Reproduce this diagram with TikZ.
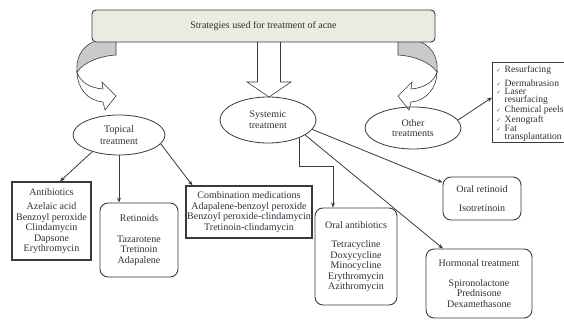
\documentclass[tikz,border=0pt]{standalone}
\usepackage{fontspec}
\setmainfont{Liberation Serif}
\newfontfamily\symfont{DejaVu Sans}
\usetikzlibrary{shapes.geometric,arrows.meta}
\definecolor{ln}{HTML}{3A3A3A}
\definecolor{txt}{HTML}{2E2E3A}
\definecolor{topfill}{HTML}{EBEBDF}
\definecolor{ribbon}{HTML}{C9C9C9}
\newcommand{\ck}{\makebox[8.5pt][l]{\symfont\fontsize{6}{6}\selectfont\textcolor{ln!80}{✓}}}
\begin{document}
\begin{tikzpicture}[x=1pt,y=-1pt,
  every node/.style={font=\fontsize{10}{10.5}\selectfont, text=txt, inner sep=1pt, align=center},
  topbox/.style={draw=ln, line width=0.9pt, fill=topfill, rounded corners=4pt},
  ell/.style={ellipse, draw=ln, line width=0.8pt, inner sep=0pt},
  sqbox/.style={rectangle, draw=ln, line width=1.3pt},
  rbox/.style={rectangle, draw=ln, line width=0.9pt, rounded corners=8pt},
  arr/.style={draw=ln, line width=0.8pt, -{Stealth[length=5pt,width=4pt]}},
  rib/.style={draw=ln, line width=0.6pt}
]
\useasboundingbox (0,0) rectangle (564,320);
\clip (0,0) rectangle (564,320);

% ribbons (left)
\fill[ribbon] (93,42) .. controls (80,48) and (76,60) .. (77,72) .. controls (84,62) and (100,56) .. (116,55) -- (116,42) -- cycle;
\draw[rib] (93,42) .. controls (80,48) and (76,60) .. (77,72) .. controls (84,62) and (100,56) .. (116,55) -- (116,42);
\draw[rib, fill=white] (77,72) .. controls (77,88) and (88,101) .. (103,102) -- (105,110) -- (116,96) -- (102,82) -- (103,89) .. controls (90,88) and (80,82) .. (77,72) -- cycle;
% ribbons (right, mirrored)
\begin{scope}[shift={(514,0)}, xscale=-1]
\fill[ribbon] (93,42) .. controls (80,48) and (76,60) .. (77,72) .. controls (84,62) and (100,56) .. (116,55) -- (116,42) -- cycle;
\draw[rib] (93,42) .. controls (80,48) and (76,60) .. (77,72) .. controls (84,62) and (100,56) .. (116,55) -- (116,42);
\draw[rib, fill=white] (77,72) .. controls (77,88) and (88,101) .. (103,102) -- (105,110) -- (116,96) -- (102,82) -- (103,89) .. controls (90,88) and (80,82) .. (77,72) -- cycle;
\end{scope}
% central block arrow
\draw[rib, fill=white] (257.5,41) -- (257.5,82) -- (247,82) -- (269,97) -- (291,82) -- (280.5,82) -- (280.5,41);

% top box
\node[topbox, minimum width=343pt, minimum height=32pt] (top) at (263.5,26) {Strategies used for treatment of acne};

% ellipses
\node[ell, minimum width=92pt, minimum height=40pt, font=\fontsize{10}{12}\selectfont] (topical) at (119,135) {Topical\\treatment};
\node[ell, minimum width=96pt, minimum height=46pt, font=\fontsize{10}{11}\selectfont] (systemic) at (268,120) {Systemic\\treatment};
\node[ell, minimum width=96pt, minimum height=42pt, font=\fontsize{10}{10}\selectfont] (other) at (413,128) {Other\\treatments};

% boxes
\node[sqbox, minimum width=79pt, minimum height=78pt] (antib) at (51.5,221) {Antibiotics\\[4pt]Azelaic acid\\Benzoyl peroxide\\Clindamycin\\Dapsone\\Erythromycin};
\node[rbox, minimum width=78pt, minimum height=74pt] (retin) at (139,240) {Retinoids\\[10pt]Tazarotene\\Tretinoin\\Adapalene};
\node[sqbox, minimum width=126pt, minimum height=52pt, inner sep=0.5pt] (combo) at (249,212) {Combination medications\\Adapalene-benzoyl peroxide\\Benzoyl peroxide-clindamycin\\Tretinoin-clindamycin};
\node[rbox, minimum width=82pt, minimum height=97pt] (oralab) at (356,256.5) {Oral antibiotics\\[9pt]Tetracycline\\Doxycycline\\Minocycline\\Erythromycin\\Azithromycin};
\node[rbox, minimum width=78pt, minimum height=43pt] (oralret) at (482,198.5) {Oral retinoid\\[8pt]Isotretinoin};
\node[rbox, minimum width=106pt, minimum height=69pt] (hormonal) at (479,283.5) {Hormonal treatment\\[9pt]Spironolactone\\Prednisone\\Dexamethasone};

% other-treatments list box
\node[sqbox, line width=1pt, anchor=north west, minimum width=80pt, minimum height=80pt] (others) at (492,62) {};
\node[anchor=north west, align=left, inner sep=0pt, font=\fontsize{9.6}{8.2}\selectfont] (otherlist) at (496,66) {\ck Resurfacing\\[3.5pt]\ck Dermabrasion\\\ck Laser\\\hspace*{8.5pt}resurfacing\\\ck Chemical peels\\\ck Xenograft\\\ck Fat\\\hspace*{8.5pt}transplantation};

% connectors
\draw[arr] (topical.212) -- ([xshift=8.5pt]antib.north);
\draw[arr] (topical.south) -- (topical.south |- retin.north);
\draw[arr] (topical.-12) -- ([xshift=7pt]combo.north west);
\draw[arr] (systemic.-30) -- ++(0,28) -| ([xshift=-23pt]oralab.north);
\draw[arr] (systemic.-22) -- ([xshift=-36pt]hormonal.north);
\draw[arr] (systemic.-12) -- ([yshift=16pt]oralret.west);
\draw[arr] (other.10) -- ([yshift=5pt]others.west);
\end{tikzpicture}
\end{document}
